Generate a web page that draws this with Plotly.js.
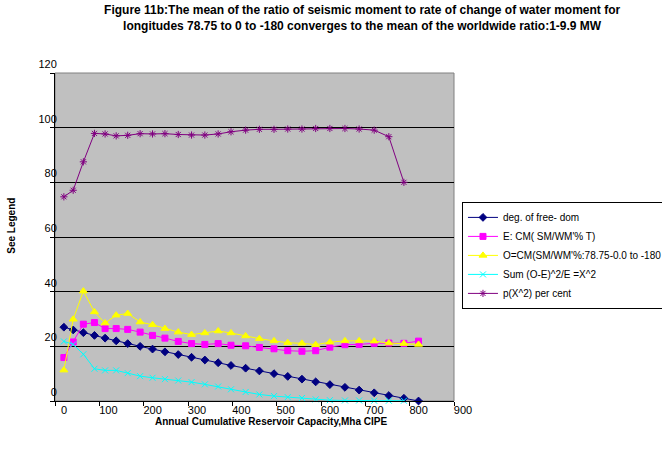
<!DOCTYPE html>
<html>
<head>
<meta charset="utf-8">
<script src="https://cdn.plot.ly/plotly-3.0.1.min.js"></script>
<style>
  html, body { margin: 0; padding: 0; background: #ffffff; }
  #chart { width: 662px; height: 453px; }
</style>
</head>
<body>
<div id="chart"></div>
<script>
// Annual cumulative reservoir capacity (x), Mha CIPE
const capacity = [0, 21, 44, 69, 93, 118, 144, 172, 200, 228, 258, 288, 318, 348, 377,
                  410, 441, 474, 505, 537, 568, 600, 634, 666, 700, 733, 767, 800];

// deg. of free- dom
const degFreedom = [27, 26, 25, 24, 23, 22, 21, 20, 19, 18, 17, 16, 15, 14, 13,
                    12, 11, 10, 9, 8, 7, 6, 5, 4, 3, 2, 1, 0];

// E: CM( SM/WM'% T)
const expected = [15.9, 21.6, 28.1, 28.7, 26.5, 26.5, 26.2, 25.2, 24.0, 23.0, 21.8, 21.0, 20.7, 21.0, 20.4,
                  20.2, 19.6, 19.1, 18.4, 18.2, 18.4, 19.7, 20.6, 20.7, 21.1, 21.2, 21.1, 21.9];

// O=CM(SM/WM'%:78.75-0.0 to -180
const observed = [11.3, 29.9, 40.2, 32.6, 28.5, 31.4, 32.0, 28.9, 27.9, 26.5, 25.2, 24.3, 24.9, 25.6, 24.9,
                  23.8, 22.8, 22.0, 21.3, 21.1, 20.6, 21.5, 22.0, 22.0, 21.9, 21.2, 21.0, 20.7];

// Sum (O-E)^2/E =X^2
const chiSquare = [21.8, 20.7, 17.1, 11.8, 11.2, 11.2, 10.2, 9.1, 8.5, 8.0, 7.5, 6.9, 6.1, 5.3, 4.3,
                   3.3, 2.4, 1.8, 1.4, 1.1, 0.6, 0.3, 0.2, 0.2, 0.1, 0.1, 0.1];

// p(X^2) per cent
const pValue = [74.7, 77.1, 87.5, 97.9, 97.7, 97.0, 97.2, 97.8, 97.7, 97.8, 97.5, 97.3, 97.3, 97.7, 98.5,
                99.1, 99.4, 99.4, 99.5, 99.5, 99.7, 99.7, 99.7, 99.5, 99.1, 96.7, 80.0];

const seriesNames = [
  "deg. of free- dom",
  "E: CM( SM/WM'% T)",
  "O=CM(SM/WM'%:78.75-0.0 to -180",
  "Sum (O-E)^2/E =X^2",
  "p(X^2) per cent"
];

const xTickLabels = [0, 100, 200, 300, 400, 500, 600, 700, 800, 900];
const yTickLabels = [0, 20, 40, 60, 80, 100, 120];

const titleText = "Figure 11b:The mean of the ratio of seismic moment to rate of change of water moment for<br>longitudes 78.75 to 0 to -180 converges to the mean of the worldwide ratio:1-9.9 MW";
const xTitleText = "Annual Cumulative Reservoir Capacity,Mha CIPE";
const yTitleText = "See Legend";

const FONT = "Arial, 'Liberation Sans', Helvetica, sans-serif";

function mk(y, name, color, symbol, size) {
  return {
    type: 'scatter',
    mode: 'lines+markers',
    x: capacity.slice(0, y.length),
    y: y,
    name: name,
    line: { color: color, width: 1 },
    marker: { color: color, symbol: symbol, size: size,
              line: { color: color, width: 1 } },
    cliponaxis: false
  };
}

const traces = [
  mk(degFreedom, seriesNames[0], '#000080', 'diamond', 6),
  mk(expected, seriesNames[1], '#FF00FF', 'square', 6),
  mk(observed, seriesNames[2], '#FFFF00', 'triangle-up', 7),
  mk(chiSquare, seriesNames[3], '#00FFFF', 'x-thin-open', 6),
  mk(pValue, seriesNames[4], '#800080', 'asterisk-open', 6)
];

const layout = {
  width: 662,
  height: 453,
  margin: { l: 55, r: 208, t: 73, b: 52, autoexpand: false },
  paper_bgcolor: '#ffffff',
  plot_bgcolor: '#C0C0C0',
  font: { family: FONT, size: 11, color: '#000000' },
  title: {
    text: titleText,
    font: { family: FONT, size: 12, color: '#000000', weight: 'bold' },
    xref: 'container', x: 0.547, xanchor: 'center',
    yref: 'container', y: 0.968, yanchor: 'top'
  },
  xaxis: {
    range: [-20, 880],
    tickmode: 'array',
    tickvals: xTickLabels.map(v => v - 20),
    ticktext: xTickLabels.map(String),
    ticklabelshift: 9,
    ticklabelstandoff: -5,
    ticks: 'outside', ticklen: 4, tickcolor: '#000000', tickwidth: 1,
    showgrid: false, zeroline: false,
    showline: true, linecolor: '#000000', linewidth: 1,
    tickfont: { family: FONT, size: 11, color: '#000000' }
  },
  yaxis: {
    range: [0, 120],
    tickmode: 'array',
    tickvals: yTickLabels,
    ticktext: yTickLabels.map(String),
    ticklabelshift: -9,
    ticklabelstandoff: -9,
    ticks: 'outside', ticklen: 4, tickcolor: '#000000', tickwidth: 1,
    showgrid: true, gridcolor: '#000000', gridwidth: 1,
    zeroline: false,
    showline: true, linecolor: '#000000', linewidth: 1,
    tickfont: { family: FONT, size: 11, color: '#000000' }
  },
  showlegend: true,
  legend: {
    x: 1.02, xanchor: 'left',
    y: 0.607, yanchor: 'top',
    bgcolor: '#ffffff',
    bordercolor: '#000000', borderwidth: 1,
    font: { family: FONT, size: 10, color: '#000000' },
    itemwidth: 30,
    tracegroupgap: 0
  },
  shapes: [{
    type: 'rect', xref: 'paper', yref: 'paper', x0: 0, x1: 1, y0: 0, y1: 1,
    line: { color: '#808080', width: 1 }, layer: 'below'
  }],
  annotations: [
    {
      text: xTitleText, showarrow: false,
      xref: 'paper', yref: 'paper', x: 0.541, y: -0.064,
      xanchor: 'center', yanchor: 'middle',
      font: { family: FONT, size: 10, color: '#000000', weight: 'bold' }
    },
    {
      text: yTitleText, showarrow: false, textangle: -90,
      xref: 'paper', yref: 'paper', x: -0.108, y: 0.534,
      xanchor: 'center', yanchor: 'middle',
      font: { family: FONT, size: 10, color: '#000000', weight: 'bold' }
    }
  ]
};

Plotly.newPlot('chart', traces, layout, { displayModeBar: false, staticPlot: true });
</script>
</body>
</html>
